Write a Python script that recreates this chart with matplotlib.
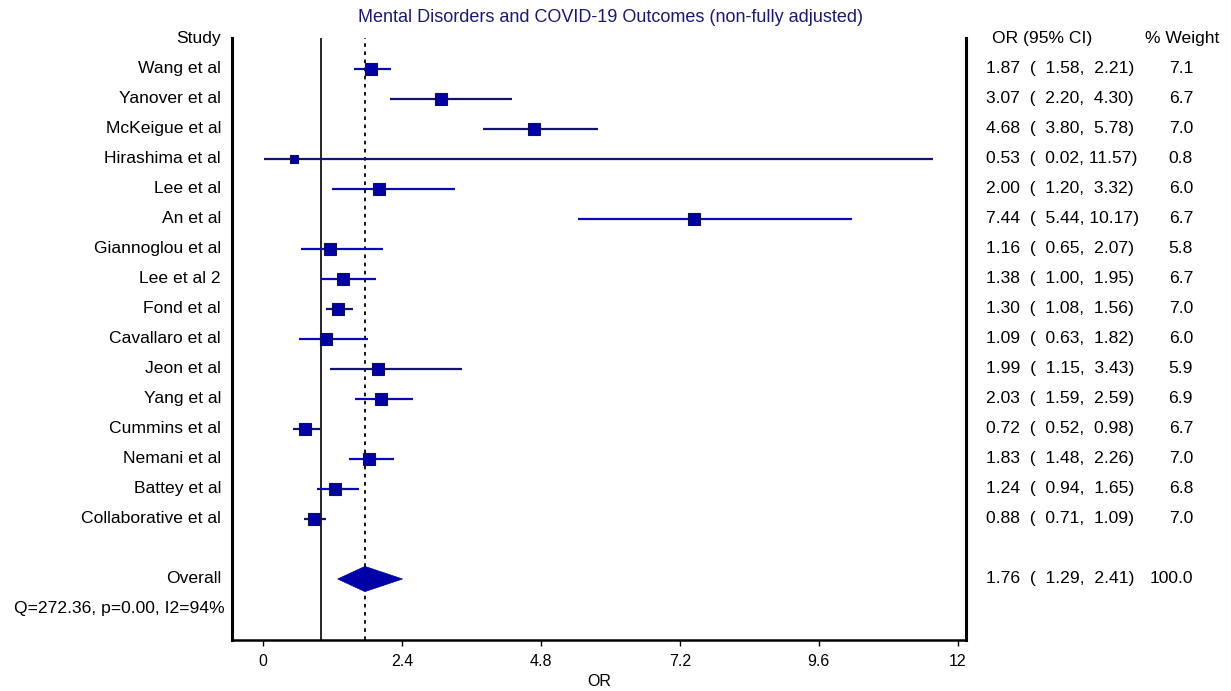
import matplotlib.pyplot as plt
import matplotlib.transforms as mtransforms
import numpy as np

plt.rcParams['font.family'] = ['Liberation Sans', 'DejaVu Sans']

# dados do forest plot
studies = ["Wang et al", "Yanover et al", "McKeigue et al", "Hirashima et al", "Lee et al",
           "An et al", "Giannoglou et al", "Lee et al 2", "Fond et al", "Cavallaro et al",
           "Jeon et al", "Yang et al", "Cummins et al", "Nemani et al", "Battey et al",
           "Collaborative et al"]
odds = [1.87, 3.07, 4.68, 0.53, 2.00, 7.44, 1.16, 1.38, 1.30, 1.09, 1.99, 2.03, 0.72, 1.83, 1.24, 0.88]
lower = [1.58, 2.20, 3.80, 0.02, 1.20, 5.44, 0.65, 1.00, 1.08, 0.63, 1.15, 1.59, 0.52, 1.48, 0.94, 0.71]
upper = [2.21, 4.30, 5.78, 11.57, 3.32, 10.17, 2.07, 1.95, 1.56, 1.82, 3.43, 2.59, 0.98, 2.26, 1.65, 1.09]
weights = [7.1, 6.7, 7.0, 0.8, 6.0, 6.7, 5.8, 6.7, 7.0, 6.0, 5.9, 6.9, 6.7, 7.0, 6.8, 7.0]
overall = (1.76, 1.29, 2.41)
het_text = "Q=272.36, p=0.00, I2=94%"
xticks = [0, 2.4, 4.8, 7.2, 9.6, 12]
title = "Mental Disorders and COVID-19 Outcomes (non-fully adjusted)"

# cores das linhas (algumas mais escuras no original)
escuro = '#14146e'
azul = '#0a0ab4'
cores = [azul, escuro, escuro, escuro, azul, azul, azul, azul, escuro, azul,
         escuro, azul, escuro, azul, azul, escuro]

W, H = 1231, 691
fig = plt.figure(figsize=(W / 100, H / 100), dpi=100)
ax = fig.add_axes([232 / W, 1 - 640 / H, (966 - 232) / W, (640 - 38) / H])

rows = np.arange(1, len(studies) + 1)
row_overall = len(studies) + 2
row_het = row_overall + 1

ax.set_xlim((232 - 263) / 57.9, (966 - 263) / 57.9)
ax.set_ylim((640 - 39) / 30, (38 - 39) / 30)

# linhas de referência
ax.axvline(1, color='black', lw=1.2, zorder=1)
ax.axvline(overall[0], color='black', lw=1.3, ls=(0, (2, 2.5)), zorder=1)

for i, y in enumerate(rows):
    ax.plot([lower[i], upper[i]], [y, y], color=cores[i], lw=1.6, zorder=2, solid_capstyle='butt')
    ax.plot(odds[i], y, marker='s', ms=5.4 + 0.45 * weights[i], mfc='#0000a8',
            mec='#10104a', mew=0.8, zorder=3)

# diamante do efeito global
m, lo, hi = overall
ax.fill([lo, m, hi, m], [row_overall, row_overall - 0.42, row_overall, row_overall + 0.42],
        color='#0000a8', edgecolor='#0000a0', lw=0.5, zorder=3)

ax.spines['top'].set_visible(False)
ax.spines['left'].set_linewidth(2.2)
ax.spines['right'].set_linewidth(2.2)
ax.spines['bottom'].set_linewidth(1.8)
ax.set_yticks([])
ax.set_xticks(xticks)
ax.set_xticklabels(["0", "2.4", "4.8", "7.2", "9.6", "12"], fontsize=11.5)
ax.tick_params(axis='x', length=4, width=1, pad=6)
ax.set_xlabel("OR", fontsize=11.5, labelpad=4)

trans = mtransforms.blended_transform_factory(fig.transFigure, ax.transData)
fs = 12.6

# coluna da esquerda
ax.text(221 / W, 0, "Study", transform=trans, ha='right', va='center', fontsize=fs)
for i, y in enumerate(rows):
    ax.text(221 / W, y, studies[i], transform=trans, ha='right', va='center', fontsize=fs)
ax.text(221 / W, row_overall, "Overall", transform=trans, ha='right', va='center', fontsize=fs)
ax.text(225 / W, row_het, het_text, transform=trans, ha='right', va='center', fontsize=fs)

# coluna da direita
ax.text(992 / W, 0, "OR (95% CI)", transform=trans, ha='left', va='center', fontsize=fs)
ax.text(1145 / W, 0, "% Weight", transform=trans, ha='left', va='center', fontsize=fs)


def linha_direita(y, o, l, u, w):
    ax.text(986 / W, y, f"{o:.2f}  (  {l:.2f}, {u:5.2f})", transform=trans,
            ha='left', va='center', fontsize=fs)
    ax.text(1193 / W, y, f"{w:.1f}", transform=trans, ha='right', va='center', fontsize=fs)


for i, y in enumerate(rows):
    linha_direita(y, odds[i], lower[i], upper[i], weights[i])
linha_direita(row_overall, overall[0], overall[1], overall[2], 100.0)

fig.text(611 / W, 1 - 18 / H, title, ha='center', va='center', fontsize=13, color='#1a1a6e')

fig.savefig("out.png", dpi=100)
